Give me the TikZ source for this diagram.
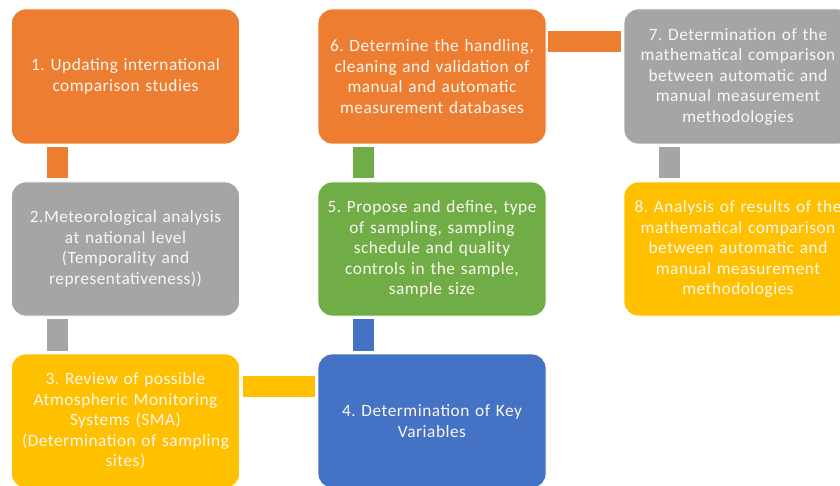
\documentclass[tikz,border=0pt]{standalone}
\usepackage{fontspec}
\setmainfont{Carlito}[LetterSpace=3]
\frenchspacing
\definecolor{corange}{HTML}{ED7D31}
\definecolor{cgray}{HTML}{A5A5A5}
\definecolor{cyellow}{HTML}{FFC000}
\definecolor{cblue}{HTML}{4472C4}
\definecolor{cgreen}{HTML}{70AD47}
\definecolor{ctext}{HTML}{FDF6F0}
\tikzset{
  box/.style={rectangle, rounded corners=14pt, draw=white, line width=0.8pt,
    minimum width=228pt, minimum height=135pt, text width=226pt, align=center,
    text=ctext, font=\fontsize{17.3}{20.5}\selectfont, inner sep=0pt},
  link/.style={line width=21pt, line cap=butt}
}
\begin{document}
\begin{tikzpicture}[x=1pt,y=-1pt]
\useasboundingbox (0,0) rectangle (840,486);
\clip (0,0) rectangle (840,486);
\node[box, fill=corange] (b1) at (125.5,76.5) {1. Updating international\\comparison studies};
\node[box, fill=cgray, minimum height=134pt] (b2) at (125.5,249) {2.Meteorological analysis\\at national level\\(Temporality and\\representativeness))};
\node[box, fill=cyellow, minimum height=134pt] (b3) at (125.5,421) {3. Review of possible\\Atmospheric Monitoring\\Systems (SMA)\\(Determination of sampling\\sites)};
\node[box, fill=cblue, minimum height=134pt] (b4) at (432,421) {4. Determination of Key\\Variables};
\node[box, fill=cgreen, minimum height=134pt] (b5) at (432,249) {5. Propose and define, type\\of sampling, sampling\\schedule and quality\\controls in the sample,\\sample size};
\node[box, fill=corange] (b6) at (432,76.5) {6. Determine the handling,\\cleaning and validation of\\manual and automatic\\measurement databases};
\node[box, fill=cgray] (b7) at (738,76.5) {7. Determination of the\\mathematical comparison\\between automatic and\\manual measurement\\methodologies};
\node[box, fill=cyellow, minimum height=134pt] (b8) at (738,249) {8. Analysis of results of the\\mathematical comparison\\between automatic and\\manual measurement\\methodologies};
\draw[link, corange] ([xshift=-68pt,yshift=-3pt]b1.south) -- ([xshift=-68pt,yshift=4pt]b2.north);
\draw[link, cgray] ([xshift=-68pt,yshift=-3pt]b2.south) -- ([xshift=-68pt,yshift=3pt]b3.north);
\draw[link, cyellow] ([xshift=3pt,yshift=34.5pt]b3.east) -- ([xshift=-3pt,yshift=34.5pt]b4.west);
\draw[link, cblue] ([xshift=-68.5pt,yshift=3pt]b4.north) -- ([xshift=-68.5pt,yshift=-3pt]b5.south);
\draw[link, cgreen] ([xshift=-68.5pt,yshift=4pt]b5.north) -- ([xshift=-68.5pt,yshift=-3pt]b6.south);
\draw[link, corange] ([xshift=2pt,yshift=35pt]b6.east) -- ([xshift=-3pt,yshift=35pt]b7.west);
\draw[link, cgray] ([xshift=-68.5pt,yshift=-3pt]b7.south) -- ([xshift=-68.5pt,yshift=4pt]b8.north);
\end{tikzpicture}
\end{document}
